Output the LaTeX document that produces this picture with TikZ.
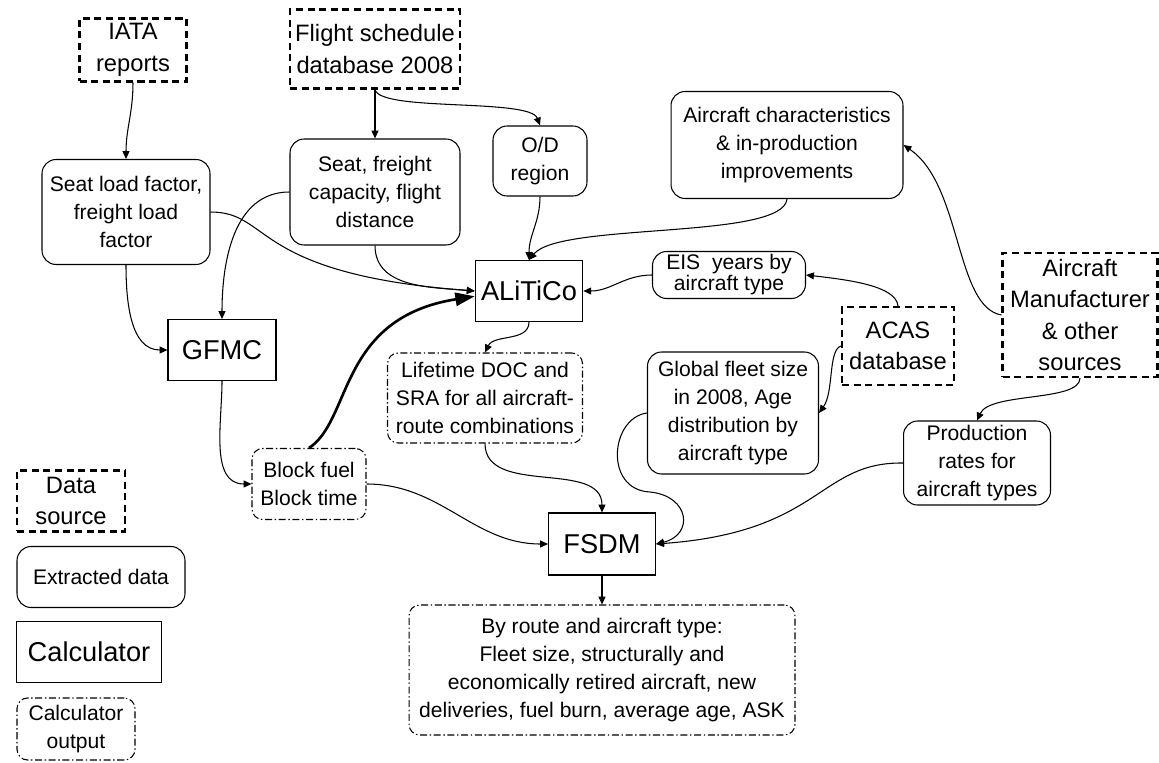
\documentclass[tikz,border=0pt]{standalone}
\usepackage{fontspec}
\setmainfont{Liberation Sans}
\usetikzlibrary{arrows.meta}
\newcommand\Txtfont{\fontsize{12}{16}\selectfont}
\newcommand\Srcfont{\fontsize{13.5}{18}\selectfont}
\newcommand\Calcfont{\fontsize{15.5}{18}\selectfont}

\begin{document}
\begin{tikzpicture}[x=0.02cm, y=-0.02cm,
srcbox/.style={
  draw, line width=1.2pt,
  dash pattern=on 4pt off 2.6pt,
  align=center, inner sep=1pt,
  font=\Srcfont
},
databox/.style={
  draw, line width=0.6pt,
  rounded corners=8pt,
  align=center, inner sep=1pt,
  font=\Txtfont
},
calcbox/.style={
  draw, line width=0.6pt,
  align=center,
  font=\Calcfont
},
outbox/.style={
  draw, line width=0.6pt,
  dash pattern=on 4pt off 1.5pt on 0.8pt off 1.5pt,
  rounded corners=6pt,
  align=center, inner sep=1pt,
  font=\Txtfont
},
conn/.style={-{Triangle[length=4.5pt,width=4pt]}, line width=0.6pt},
bigconn/.style={-{Triangle[length=11pt,width=7.5pt]}, line width=1.5pt}]

\useasboundingbox (0,0) rectangle (1159,763);

\node (iata) [srcbox, minimum width=2.14cm, minimum height=1.26cm] at (133,50) {IATA\\reports};
\node (fsd) [srcbox, minimum width=3.4cm, minimum height=1.58cm] at (375,49) {Flight schedule\\database 2008};
\node (slf) [databox, minimum width=3.36cm, minimum height=2.1cm] at (126,212) {Seat load factor,\\freight load\\factor};
\node (sfc) [databox, minimum width=3.4cm, minimum height=2.12cm] at (375,192) {Seat, freight\\capacity, flight\\distance};
\node (od) [databox, minimum width=1.88cm, minimum height=1.4cm] at (540,161) {O/D\\region};
\node (acc) [databox, minimum width=4.64cm, minimum height=2.14cm] at (787,145) {Aircraft characteristics\\\& in-production\\improvements};
\node (alitico) [calcbox, minimum width=2.12cm, minimum height=1.22cm] at (529,291) {ALiTiCo};
\node (eis) [databox, font=\fontsize{12}{12}\selectfont, minimum width=3.06cm, minimum height=0.94cm] at (729,275) {EIS\ \ years by\\aircraft type};
\node (acas) [srcbox, minimum width=2.24cm, minimum height=1.56cm] at (898,346) {ACAS\\database};
\node (acm) [srcbox, minimum width=3.1cm, minimum height=2.48cm] at (1080,315) {Aircraft\\Manufacturer\\\& other\\sources};
\node (gfmc) [calcbox, minimum width=2.16cm, minimum height=1.22cm] at (222,350) {GFMC};
\node (ldoc) [outbox, minimum width=3.9cm, minimum height=1.8cm] at (485,398) {Lifetime DOC and\\SRA for all aircraft-\\route combinations};
\node (gfs) [databox, minimum width=3.42cm, minimum height=2.44cm] at (733,413) {Global fleet size\\in 2008, Age\\distribution by\\aircraft type};
\node (prod) [databox, minimum width=2.94cm, minimum height=1.68cm] at (977,463) {Production\\rates for\\aircraft types};
\node (bfbt) [outbox, minimum width=2.28cm, minimum height=1.42cm] at (309,484) {Block fuel\\Block time};
\node (fsdm) [calcbox, minimum width=2.14cm, minimum height=1.24cm] at (602,544) {FSDM};
\node (res) [outbox, minimum width=7.72cm, minimum height=2.6cm] at (602,670) {By route and aircraft type:\\Fleet size, structurally and\\economically retired aircraft, new\\deliveries, fuel burn, average age, ASK};

\node (lsrc) [srcbox, minimum width=2.16cm, minimum height=1.22cm] at (71,501) {Data\\source};
\node (lext) [databox, minimum width=3.36cm, minimum height=1.22cm] at (101,577) {Extracted data};
\node (lcalc) [calcbox, minimum width=2.9cm, minimum height=1.22cm] at (89,652) {Calculator};
\node (lout) [outbox, minimum width=2.36cm, minimum height=1.24cm] at (76,729) {Calculator\\output};

\draw [conn] (iata.south) to[out=-90, in=90] (slf.north);
\draw [conn] (fsd.south) -- (sfc.north);
\draw [conn] (fsd.south) .. controls (380,112) and (530,98) .. (od.north);
\draw [conn] (slf.east) .. controls (272,212) and (250,274) .. (alitico.west);
\draw [conn] (sfc.south) to[out=-90, in=175] (alitico.west);
\draw [conn] (sfc.west) to[out=180, in=90] (gfmc.north);
\draw [conn] (od.south) to[out=-90, in=90] (alitico.north);
\draw [conn] (acc.south) .. controls (783,240) and (560,222) .. (alitico.north);
\draw [conn] (slf.south) to[out=-90, in=180] (gfmc.west);
\draw [conn] (gfmc.south) to[out=-90, in=180] (bfbt.west);
\draw [bigconn] (bfbt.north) .. controls (352,420) and (338,318) .. ([yshift=-3pt]alitico.west);
\draw [conn] (eis.west) to[out=180, in=0] (alitico.east);
\draw [conn] (acas.north) .. controls (896,286) and (850,280) .. (eis.east);
\draw [conn] (acas.west) .. controls (828,350) and (834,392) .. (gfs.east);
\draw [conn] (acm.west) .. controls (955,307) and (962,185) .. (acc.east);
\draw [conn] (acm.south) .. controls (1080,402) and (990,392) .. (prod.north);
\draw [conn] (alitico.south) .. controls (529,342) and (494,334) .. (ldoc.north);
\draw [conn] (ldoc.south) to[out=-90, in=90] (fsdm.north);
\draw [conn] (bfbt.east) to[out=0, in=180] (fsdm.west);
\draw [conn] (gfs.west) .. controls (610,418) and (604,490) .. (650,492)
  .. controls (690,496) and (694,535) .. (fsdm.east);
\draw [conn] (prod.west) .. controls (818,462) and (822,532) .. (fsdm.east);
\draw [conn] (fsdm.south) -- (res.north);
\end{tikzpicture}
\end{document}
